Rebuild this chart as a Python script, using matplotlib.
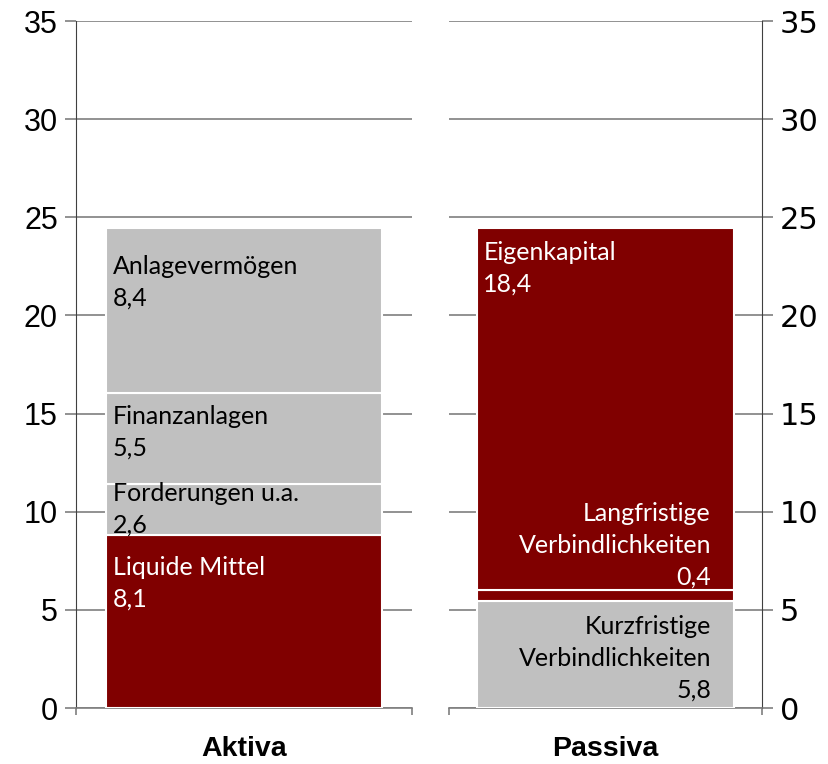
import matplotlib
matplotlib.use('Agg')
import matplotlib.pyplot as plt

# values (segment heights, bottom to top)
aktiva_names = ['Liquide Mittel', 'Forderungen u.a.', 'Finanzanlagen', 'Anlagevermögen']
aktiva_heights = [8.8, 2.6, 4.65, 8.4]
aktiva_labels = ['8,1', '2,6', '5,5', '8,4']
aktiva_colors = ['#800000', '#c0c0c0', '#c0c0c0', '#c0c0c0']

passiva_names = ['Kurzfristige\nVerbindlichkeiten', 'Langfristige\nVerbindlichkeiten', 'Eigenkapital']
passiva_heights = [5.45, 0.55, 18.45]
passiva_labels = ['5,8', '0,4', '18,4']
passiva_colors = ['#c0c0c0', '#800000', '#800000']

categories = ['Aktiva', 'Passiva']
yticks = [0, 5, 10, 15, 20, 25, 30, 35]

# label placement (top of text in data units, alignment)
aktiva_pos = [(7.74, 'left'), (11.51, 'left'), (15.44, 'left'), (23.08, 'left')]
passiva_pos = [(4.74, 'right'), (10.49, 'right'), (23.79, 'left')]

W, H = 829, 764
fig = plt.figure(figsize=(W / 100, H / 100), dpi=100)
ax1 = fig.add_axes([76 / W, 56 / H, 336 / W, 687 / H])
ax2 = fig.add_axes([449 / W, 56 / H, 313 / W, 687 / H])

lab_font = 'Lato'
grid_col = '#7f7f7f'


def draw(ax, heights, colors, names, labels, pos, cat):
    bottom = 0
    for h, c, n, l, (yt, ha) in zip(heights, colors, names, labels, pos):
        ax.bar(0, h, width=0.82, bottom=bottom, color=c, edgecolor='white', linewidth=1.5, zorder=3)
        tc = 'white' if c == '#800000' else 'black'
        x = -0.39 if ha == 'left' else 0.337
        ax.text(x, yt, n + '\n' + l, ha=ha, va='top', color=tc,
                fontsize=18, family=lab_font, linespacing=1.46, zorder=4)
        bottom += h
    ax.set_xlim(-0.5, 0.5)
    ax.set_ylim(0, 35)
    ax.set_yticks(yticks)
    ax.yaxis.grid(True, color=grid_col, linewidth=1.2, zorder=0)
    ax.set_xticks([-0.5, 0.5])
    ax.set_xticklabels([])
    ax.tick_params(axis='x', direction='out', length=5, color=grid_col, width=1.2)
    ax.tick_params(axis='y', direction='out', length=8, color=grid_col, width=1.2,
                   labelsize=22, pad=5)
    for t in ax.get_yticklabels():
        t.set_family('Liberation Sans')
    ax.spines['top'].set_visible(False)
    ax.spines['bottom'].set_color(grid_col)
    ax.spines['bottom'].set_linewidth(1.2)
    ax.set_xlabel(cat, fontsize=20.5, fontweight='bold', family='Liberation Sans', labelpad=12)


draw(ax1, aktiva_heights, aktiva_colors, aktiva_names, aktiva_labels, aktiva_pos, categories[0])
draw(ax2, passiva_heights, passiva_colors, passiva_names, passiva_labels, passiva_pos, categories[1])

ax1.spines['right'].set_visible(False)
ax1.spines['left'].set_color('#404040')
ax2.spines['left'].set_visible(False)
ax2.spines['right'].set_color('#404040')
ax2.yaxis.tick_right()
ax2.tick_params(axis='y', which='both', left=False, right=True)

fig.savefig('out.png', dpi=100)
